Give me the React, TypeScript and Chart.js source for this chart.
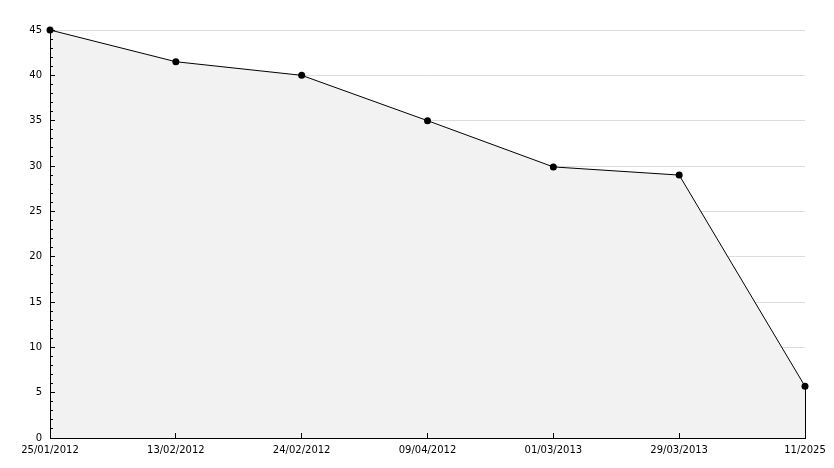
import React, { useEffect, useRef } from "react";
import { Chart, registerables } from "chart.js";

Chart.register(...registerables);

const categories = [
  "25/01/2012",
  "13/02/2012",
  "24/02/2012",
  "09/04/2012",
  "01/03/2013",
  "29/03/2013",
  "11/2025",
];
const values = [45, 41.5, 40, 35, 29.9, 29, 5.7];
const yMin = 0;
const yMax = 45;
const majorStep = 5;
const minorStep = 1;

const dropLinePlugin = {
  id: "dropLine",
  afterDatasetsDraw(chart: any) {
    const meta = chart.getDatasetMeta(0);
    const last = meta.data[meta.data.length - 1];
    if (!last) return;
    const ctx = chart.ctx;
    const x = Math.round(last.x) + 0.5;
    ctx.save();
    ctx.strokeStyle = "#000";
    ctx.lineWidth = 1;
    ctx.beginPath();
    ctx.moveTo(x, last.y);
    ctx.lineTo(x, chart.chartArea.bottom);
    ctx.stroke();
    ctx.restore();
  },
};

export default function App() {
  const ref = useRef<HTMLCanvasElement | null>(null);
  useEffect(() => {
    if (!ref.current) return;
    const font = { family: "'DejaVu Sans', Verdana, sans-serif", size: 10 };
    const chart = new Chart(ref.current, {
      type: "line",
      data: {
        labels: categories,
        datasets: [
          {
            data: values,
            borderColor: "#000",
            borderWidth: 1,
            backgroundColor: "#f2f2f2",
            fill: "origin",
            tension: 0,
            clip: false,
            pointRadius: 3.5,
            pointHoverRadius: 3.5,
            pointBackgroundColor: "#000",
            pointBorderColor: "#000",
            pointBorderWidth: 0,
            pointStyle: "circle",
          },
        ],
      },
      options: {
        responsive: false,
        animation: false,
        events: [],
        layout: { padding: { left: 0, top: 30, right: 29, bottom: 0 } },
        plugins: { legend: { display: false }, tooltip: { enabled: false } },
        scales: {
          x: {
            type: "category",
            position: "bottom",
            weight: 1,
            offset: false,
            grid: {
              drawOnChartArea: false,
              drawTicks: false,
            },
            border: { display: true, color: "#000", width: 1, z: 1 },
            ticks: {
              color: "#000",
              font,
              maxRotation: 0,
              minRotation: 0,
              autoSkip: false,
              padding: 6,
            },
            afterFit: (s: any) => {
              s.height = 30;
            },
          },
          xTicks: {
            type: "category",
            position: "bottom",
            weight: 0,
            offset: false,
            grid: {
              z: 1,
              drawOnChartArea: false,
              drawTicks: true,
              tickLength: -5,
              tickColor: "#000",
            },
            border: { display: false },
            ticks: { display: false, autoSkip: false },
            afterFit: (s: any) => {
              s.height = 0;
            },
          },
          y: {
            type: "linear",
            position: "left",
            weight: 2,
            min: yMin,
            max: yMax,
            grid: {
              color: "#dcdcdc",
              drawTicks: false,
            },
            border: { display: false },
            ticks: {
              stepSize: majorStep,
              color: "#000",
              font,
              padding: 8,
            },
            afterFit: (s: any) => {
              s.width = 50;
            },
          },
          yMajor: {
            type: "linear",
            position: "left",
            weight: 1,
            min: yMin,
            max: yMax,
            grid: {
              z: 1,
              drawOnChartArea: false,
              drawTicks: true,
              tickLength: -5,
              tickColor: "#000",
            },
            border: { display: true, color: "#000", width: 1, z: 1 },
            ticks: { stepSize: majorStep, display: false },
            afterFit: (s: any) => {
              s.width = 0;
            },
          },
          yMinor: {
            type: "linear",
            position: "left",
            weight: 0,
            min: yMin,
            max: yMax,
            grid: {
              z: 1,
              drawOnChartArea: false,
              drawTicks: true,
              tickLength: -3,
              tickColor: "#000",
            },
            border: { display: false },
            ticks: { stepSize: minorStep, display: false },
            afterFit: (s: any) => {
              s.width = 0;
            },
          },
        },
      },
      plugins: [dropLinePlugin],
    });
    return () => chart.destroy();
  }, []);
  return (
    <div style={{ position: "fixed", left: 0, top: 0, width: 834, height: 468, background: "#fff" }}>
      <canvas ref={ref} width={834} height={468} style={{ width: 834, height: 468, display: "block" }} />
    </div>
  );
}
